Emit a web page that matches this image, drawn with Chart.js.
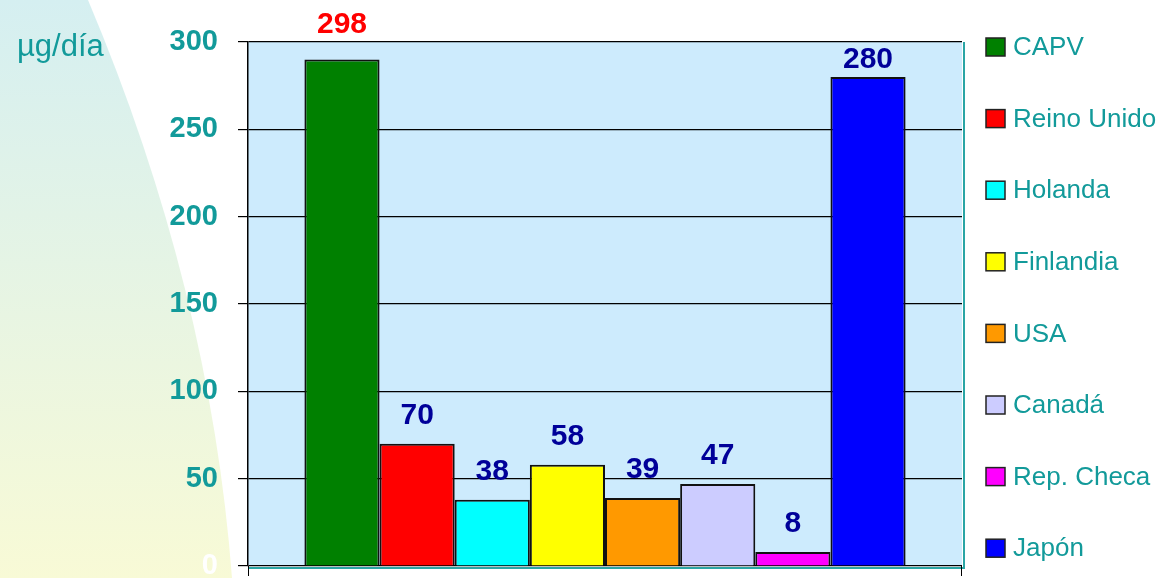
<!DOCTYPE html>
<html>
<head>
<meta charset="utf-8">
<script src="https://cdn.jsdelivr.net/npm/chart.js@4"></script>
<style>
  html, body { margin: 0; padding: 0; background: #fff; }
  #wrap { width: 1164px; height: 578px; position: relative; }
</style>
</head>
<body>
<div id="wrap"><canvas id="chart" width="1164" height="578"></canvas></div>
<script>
const countries = ['CAPV', 'Reino Unido', 'Holanda', 'Finlandia', 'USA', 'Canadá', 'Rep. Checa', 'Japón'];
const barValues = [290, 70, 38, 58, 39, 47, 8, 280];
const valueLabels = ['298', '70', '38', '58', '39', '47', '8', '280'];
const barColors = ['#008000', '#ff0000', '#00ffff', '#ffff00', '#ff9900', '#ccccff', '#ff00ff', '#0000ff'];
const yTicks = [0, 50, 100, 150, 200, 250, 300];
const yUnit = 'µg/día';

const teal = '#129a9a';
const navy = '#000099';
const font = 'Liberation Sans, Arial, sans-serif';

// curved gradient swoosh on the left + light blue plot background
const backdrop = {
  id: 'backdrop',
  beforeDraw(chart) {
    const { ctx, chartArea: a } = chart;
    ctx.save();
    const g = ctx.createLinearGradient(0, 0, 0, chart.height);
    g.addColorStop(0, '#d5eff1');
    g.addColorStop(1, '#f8fad6');
    ctx.fillStyle = g;
    ctx.beginPath();
    ctx.moveTo(0, 0);
    ctx.lineTo(88, 0);
    ctx.quadraticCurveTo(210, 289, 232, chart.height);
    ctx.lineTo(0, chart.height);
    ctx.closePath();
    ctx.fill();

    ctx.fillStyle = '#cdebfd';
    ctx.fillRect(a.left, a.top, a.right - a.left, a.bottom - a.top);
    ctx.strokeStyle = '#2aa5a5';
    ctx.lineWidth = 2;
    ctx.beginPath();
    ctx.moveTo(a.left, a.bottom + 2);
    ctx.lineTo(a.right + 2, a.bottom + 2);
    ctx.lineTo(a.right + 2, a.top);
    ctx.stroke();

    ctx.fillStyle = teal;
    ctx.font = '31px ' + font;
    ctx.textBaseline = 'middle';
    ctx.textAlign = 'left';
    ctx.fillText(yUnit, 17, 47);
    ctx.restore();
  },
  afterDraw(chart) {
    const { ctx, chartArea: a } = chart;
    ctx.save();
    ctx.strokeStyle = '#000';
    ctx.lineWidth = 1;
    ctx.beginPath();
    ctx.moveTo(a.left + 0.5, a.bottom);
    ctx.lineTo(a.left + 0.5, a.bottom + 10);
    ctx.moveTo(a.right - 0.5, a.bottom);
    ctx.lineTo(a.right - 0.5, a.bottom + 10);
    ctx.stroke();

    // value labels
    ctx.font = 'bold 30px ' + font;
    ctx.textAlign = 'center';
    ctx.textBaseline = 'middle';
    chart.data.datasets.forEach((ds, i) => {
      const bar = chart.getDatasetMeta(i).data[0];
      let y = bar.y - 28;
      if (y - 11 < a.top) {
        y = (bar.y - a.top < 25) ? a.top - 17 : a.top + 18;
      }
      ctx.fillStyle = i === 0 ? '#ff0000' : navy;
      ctx.fillText(valueLabels[i], bar.x, y);
    });

    // legend
    ctx.font = '26px ' + font;
    ctx.textAlign = 'left';
    chart.data.datasets.forEach((ds, i) => {
      const cy = 47 + i * 71.6;
      ctx.fillStyle = ds.backgroundColor;
      ctx.fillRect(986, cy - 9, 19, 18);
      ctx.strokeStyle = '#222';
      ctx.lineWidth = 1.5;
      ctx.strokeRect(986, cy - 9, 19, 18);
      ctx.fillStyle = teal;
      ctx.fillText(ds.label, 1013, cy + 1);
    });
    ctx.restore();
  }
};

new Chart(document.getElementById('chart'), {
  type: 'bar',
  data: {
    labels: [''],
    datasets: countries.map((name, i) => ({
      label: name,
      data: [barValues[i]],
      backgroundColor: barColors[i],
      borderColor: '#111',
      borderWidth: 2
    }))
  },
  options: {
    responsive: false,
    animation: false,
    events: [],
    layout: { padding: { left: 0, top: 42, right: 202, bottom: 12 } },
    datasets: { bar: { categoryPercentage: 0.842, barPercentage: 1 } },
    plugins: { legend: { display: false }, tooltip: { enabled: false } },
    scales: {
      x: { display: false },
      y: {
        min: 0,
        max: 300,
        afterFit: s => { s.width = 248; s.paddingTop = 0; s.paddingBottom = 0; },
        afterBuildTicks: s => { s.ticks = yTicks.map(v => ({ value: v })); },
        grid: { color: '#000', lineWidth: 1.2, tickLength: 10, drawOnChartArea: true },
        border: { color: '#000', width: 1.5 },
        ticks: {
          padding: 20,
          font: { family: font, size: 29, weight: 'bold' },
          color: ctx => ctx.tick.value === 0 ? '#ffffff' : teal
        }
      }
    }
  },
  plugins: [backdrop]
});
</script>
</body>
</html>
